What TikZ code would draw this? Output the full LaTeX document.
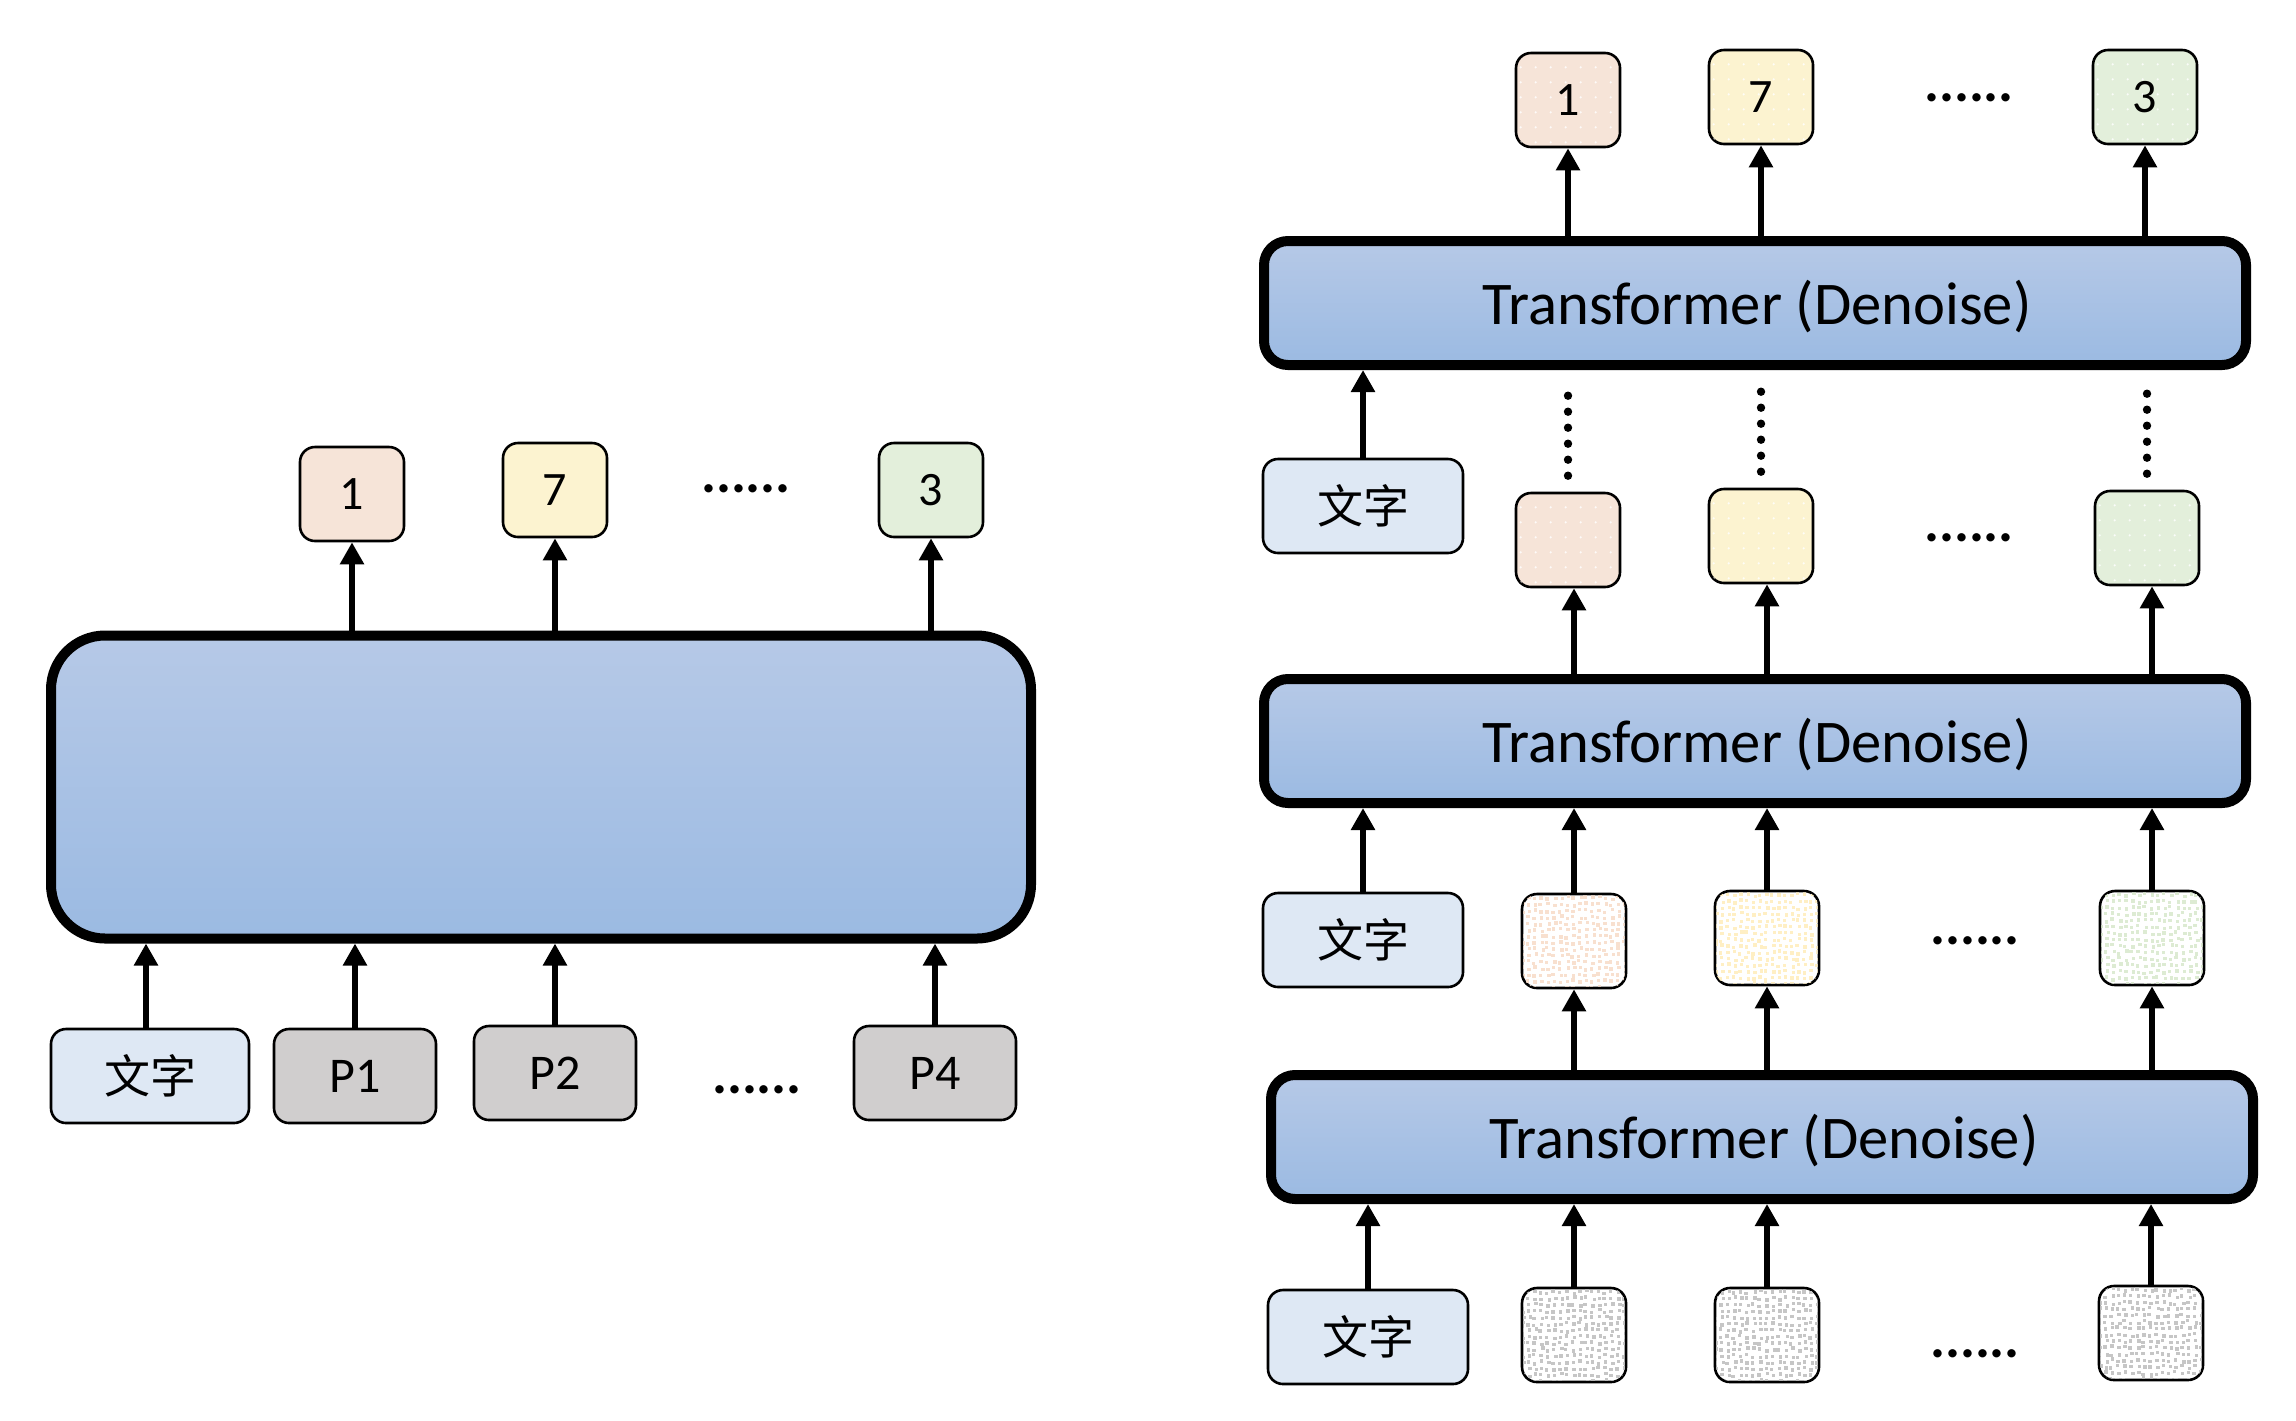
\documentclass[tikz,border=0pt]{standalone}
\usepackage{fontspec}
\setmainfont{Carlito}
\newfontfamily\cjk{Noto Sans CJK SC}
\usetikzlibrary{arrows.meta,calc}
\definecolor{peach}{RGB}{246,228,216}
\definecolor{lemon}{RGB}{252,243,208}
\definecolor{mint}{RGB}{227,239,219}
\definecolor{peachN}{RGB}{248,224,207}
\definecolor{lemonN}{RGB}{255,239,196}
\definecolor{mintN}{RGB}{221,235,211}
\definecolor{grayN}{RGB}{198,198,198}
\definecolor{txtbox}{RGB}{222,232,244}
\definecolor{pbox}{RGB}{208,206,206}
\definecolor{bigtop}{RGB}{182,201,231}
\definecolor{bigbot}{RGB}{155,186,226}
\newcommand\noisefill[2]{%
  \begin{scope}
    \clip[rounded corners=6pt] ([shift={(1.3pt,1.3pt)}]#1.south west) rectangle ([shift={(-1.3pt,-1.3pt)}]#1.north east);
    \foreach \i in {0,...,17}{\foreach \j in {0,...,15}{
      \pgfmathsetmacro\dx{\i*3.2+rand*0.8}
      \pgfmathsetmacro\dy{\j*3.2+rand*0.8}
      \fill[#2] ($(#1.south west)+(\dx pt,\dy pt)$) rectangle +(1.7pt,1.7pt);
    }}
  \end{scope}}
\newcommand\dotgrid[1]{%
  \begin{scope}
    \clip[rounded corners=6pt] ([shift={(1.3pt,1.3pt)}]#1.south west) rectangle ([shift={(-1.3pt,-1.3pt)}]#1.north east);
    \foreach \i in {0,...,7}{\foreach \j in {0,...,7}{
      \fill[white,opacity=.85] ($(#1.south west)+(\i*7.5pt+3pt,\j*7.5pt+3pt)$) circle (0.6pt);
    }}
  \end{scope}}
\begin{document}
\begin{tikzpicture}[x=0.5pt,y=-0.5pt,
  tok/.style={draw,line width=1.3pt,rounded corners=7.5pt,minimum width=52pt,minimum height=47pt,inner sep=0pt,font=\fontsize{24}{24}\selectfont},
  wordbox/.style={tok,fill=txtbox,minimum width=100pt,font=\cjk\fontsize{23}{23}\selectfont},
  pb/.style={tok,fill=pbox,minimum width=81pt,font=\fontsize{25}{25}\selectfont},
  big/.style={draw,line width=5pt,rounded corners=27pt,top color=bigtop,bottom color=bigbot,minimum width=490pt,minimum height=151.5pt,inner sep=0pt},
  trans/.style={draw,line width=5pt,rounded corners=12pt,top color=bigtop,bottom color=bigbot,minimum width=491pt,minimum height=62pt,inner sep=0pt,font=\fontsize{30.3}{30.3}\selectfont},
  ttext/.style={font=\fontsize{30.3}{30.3}\selectfont,inner sep=0pt},
  arr/.style={-{Triangle[width=11.5pt,length=11pt]},line width=3.4pt},
  dotline/.style={line width=4.2pt,line cap=round,dash pattern=on 0pt off 8pt},
  ell/.style={inner sep=0pt,font=\bfseries\fontsize{28}{28}\selectfont}]
\useasboundingbox (0,0) rectangle (2296,1420);
\pgfmathsetseed{42}
% ---------------- left ----------------
\node[big] (Lbig) at (541,787) {};
\node[tok,fill=peach] (Lo1) at (352,494) {1};
\node[tok,fill=lemon] (Lo7) at (555,490) {7};
\node[tok,fill=mint]  (Lo3) at (931,490) {3};
\node[ell] (Ld1) at (746,489) {......};
\node[wordbox,minimum width=99pt] (Lt) at (150,1076) {文字};
\node[pb] (Lp1) at (355,1076) {P1};
\node[pb] (Lp2) at (555,1073) {P2};
\node[pb] (Lp4) at (935,1073) {P4};
\node[ell] (Ld2) at (757,1090) {......};
\foreach \n in {Lo1,Lo7,Lo3} \draw[arr] (Lbig.north -| \n) -- (\n.south);
\draw[arr] ([xshift=-2pt]Lt.north) -- ([xshift=-2pt]Lt.north |- Lbig.south);
\foreach \n in {Lp1,Lp2,Lp4} \draw[arr] (\n.north) -- (\n.north |- Lbig.south);
% ---------------- right ----------------
\node[trans] (T1) at (1755,303) {};
\node[trans] (T2) at (1755,741) {};
\node[trans] (T3) at (1762,1137) {};
\node[ttext] (T1t) at (1757,307) {Transformer (Denoise)};
\node[ttext] (T2t) at (1757,745) {Transformer (Denoise)};
\node[ttext] (T3t) at (1764,1141) {Transformer (Denoise)};
% row 1 outputs
\node[tok,fill=peach] (Ro1) at (1568,100) {};
\node[tok,fill=lemon] (Ro7) at (1761,97) {};
\node[tok,fill=mint]  (Ro3) at (2145,97) {};
\foreach \n in {Ro1,Ro7,Ro3} \dotgrid{\n};
\node[font=\fontsize{24}{24}\selectfont] at (Ro1) {1};
\node[font=\fontsize{24}{24}\selectfont] at (Ro7) {7};
\node[font=\fontsize{24}{24}\selectfont] at (Ro3) {3};
\node[ell] (Rd1) at (1969,98) {......};
\foreach \n in {Ro1,Ro7,Ro3} \draw[arr] (T1.north -| \n) -- (\n.south);
% row 2
\node[wordbox] (Rt2) at (1363,506) {文字};
\node[tok,fill=peach] (Ra1) at (1568,540) {};
\node[tok,fill=lemon] (Ra2) at (1761,536) {};
\node[tok,fill=mint]  (Ra3) at (2147,538) {};
\foreach \n in {Ra1,Ra2,Ra3} \dotgrid{\n};
\node[ell] (Rd2) at (1969,538) {......};
\draw[arr] (Rt2.north) -- (Rt2.north |- T1.south);
\foreach \n in {Ra1,Ra2,Ra3} \draw[dotline] ([yshift=8pt]\n.north) -- ([yshift=48pt]\n.north);
% row 3
\node[wordbox] (Rt3) at (1363,940) {文字};
\node[tok,fill=white] (Rb1) at (1574,941) {};
\node[tok,fill=white] (Rb2) at (1767,938) {};
\node[tok,fill=white] (Rb3) at (2152,938) {};
\noisefill{Rb1}{peachN}
\noisefill{Rb2}{lemonN}
\noisefill{Rb3}{mintN}
\node[ell] (Rd3) at (1975,941) {......};
\draw[arr] (Rt3.north) -- (Rt3.north |- T2.south);
\foreach \n in {Rb1,Rb2,Rb3} \draw[arr] (\n.north) -- (\n.north |- T2.south);
\draw[arr] (T2.north -| Rb1) -- (Rb1.north |- Ra1.south);
\draw[arr] (T2.north -| Rb2) -- (Rb2.north |- Ra2.south);
\draw[arr] (T2.north -| Rb3) -- (Rb3.north |- Ra3.south);
% row 4
\node[wordbox] (Rt4) at (1368,1337) {文字};
\node[tok,fill=white] (Rc1) at (1574,1335) {};
\node[tok,fill=white] (Rc2) at (1767,1335) {};
\node[tok,fill=white] (Rc3) at (2151,1333) {};
\noisefill{Rc1}{grayN}
\noisefill{Rc2}{grayN}
\noisefill{Rc3}{grayN}
\node[ell] (Rd4) at (1975,1354) {......};
\draw[arr] (Rt4.north) -- (Rt4.north |- T3.south);
\foreach \n in {Rc1,Rc2,Rc3} \draw[arr] (\n.north) -- (\n.north |- T3.south);
\draw[arr] (T3.north -| Rb1) -- (Rb1.south);
\draw[arr] (T3.north -| Rb2) -- (Rb2.south);
\draw[arr] (T3.north -| Rb3) -- (Rb3.south);
\end{tikzpicture}
\end{document}
